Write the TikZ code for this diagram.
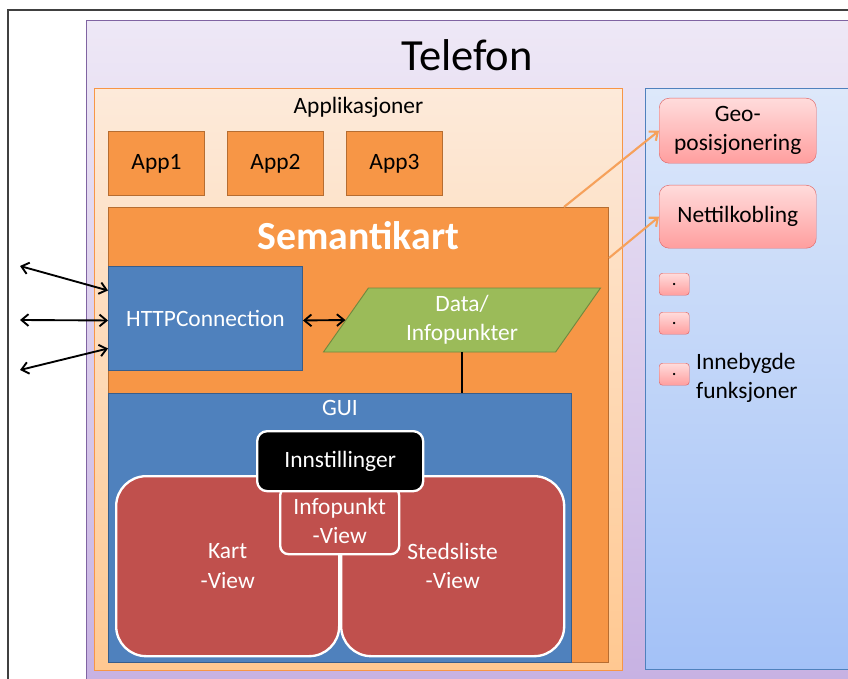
\documentclass[tikz,border=0pt]{standalone}
\usepackage{fontspec}
\setmainfont{Carlito}
\usetikzlibrary{arrows.meta,shapes.geometric}
\definecolor{TelLight}{HTML}{EEE8F6}
\definecolor{TelDark}{HTML}{C6B0E2}
\definecolor{TelLine}{HTML}{8064A2}
\definecolor{AppLight}{HTML}{FDEADA}
\definecolor{AppDark}{HTML}{FFC891}
\definecolor{MyOrange}{HTML}{F79646}
\definecolor{OrangeLine}{HTML}{B66D31}
\definecolor{MyBlue}{HTML}{4F81BD}
\definecolor{BlueLine}{HTML}{385D8A}
\definecolor{MyGreen}{HTML}{9BBB59}
\definecolor{GreenLine}{HTML}{71893F}
\definecolor{MyRed}{HTML}{C0504D}
\definecolor{PanelLight}{HTML}{DDE8FA}
\definecolor{PanelDark}{HTML}{A3C1F7}
\definecolor{PinkLight}{HTML}{FFDCDC}
\definecolor{PinkDark}{HTML}{FF9E9E}
\definecolor{PinkLine}{HTML}{E06666}
\definecolor{ArrOrange}{HTML}{F6A15B}

\begin{document}
\begin{tikzpicture}[
        x=0.03cm, y=-0.03cm,
        font=\fontsize{20}{25}\selectfont,
        box/.style={anchor=north west,inner sep=2pt},
        telbox/.style={box,draw=TelLine,thick,top color=TelLight,bottom color=TelDark},
        appbg/.style={box,draw=MyOrange,thick,top color=AppLight,bottom color=AppDark},
        app/.style={box,draw=OrangeLine,thick,fill=MyOrange,minimum width=2.88cm,minimum height=1.92cm},
        sembox/.style={box,draw=OrangeLine,thick,fill=MyOrange},
        bluebox/.style={box,draw=BlueLine,thick,fill=MyBlue,text=white},
        view/.style={box,draw=white,line width=2pt,fill=MyRed,text=white,align=center,rounded corners=0.9cm},
        small/.style={box,draw=white,line width=2pt,fill=MyRed,text=white,align=center,rounded corners=0.25cm},
        panel/.style={box,draw=MyBlue,thin,top color=PanelLight,bottom color=PanelDark},
        pink/.style={box,draw=PinkLine,thin,top color=PinkLight,bottom color=PinkDark,rounded corners=0.3cm,align=center},
        dot/.style={pink,rounded corners=0.1cm,minimum width=0.9cm,minimum height=0.66cm,font=\fontsize{16}{16}\selectfont},
        blk/.style={<->,>={Straight Barb[length=6pt,width=10pt,line width=1.6pt]},line width=1.6pt},
        org/.style={->,>={Straight Barb[length=6pt,width=10pt,line width=1.8pt]},ArrOrange,line width=1.8pt}
    ]
    \clip (0,0) rectangle (848,679);
    % window frame
    \draw[black!75,line width=1pt] (848,10) -- (8,10) -- (8,690);
    % Telefon
    \node[telbox,minimum width=23.52cm,minimum height=20.4cm] (tel) at (86,20) {};
    \node[font=\fontsize{38}{40}\selectfont] (teltitle) at (467,55) {Telefon};
    % Applikasjoner
    \node[appbg,minimum width=15.84cm,minimum height=17.46cm] (apps) at (94,88) {};
    \node[below=4pt] (appstitle) at (apps.north) {Applikasjoner};
    \node[app] (app1) at (108,131) {App1};
    \node[app] (app2) at (227,131) {App2};
    \node[app] (app3) at (346,131) {App3};
    % Semantikart
    \node[sembox,minimum width=15cm,minimum height=13.65cm] (sem) at (108,207) {};
    \node[below=9pt,text=white,font=\fontsize{34}{36}\selectfont\bfseries] (semtitle) at (sem.north) {Semantikart};
    \node[bluebox,minimum width=5.82cm,minimum height=3.12cm] (http) at (108,266) {HTTPConnection};
    \node[trapezium,trapezium left angle=49,trapezium right angle=131,trapezium stretches body,
          draw=GreenLine,thick,fill=MyGreen,text=white,align=center,inner sep=1pt,
          minimum width=8.31cm,minimum height=1.92cm] (data) at (462,320) {Data/\\Infopunkter};
    % GUI
    \node[bluebox,minimum width=13.89cm,minimum height=8.07cm] (gui) at (108,393) {};
    \node[below=3pt,text=white] (guititle) at (gui.north) {GUI};
    \node[view,minimum width=6.69cm,minimum height=5.4cm] (kart) at (115,475) {Kart\\-View};
    \node[view,minimum width=6.69cm,minimum height=5.4cm] (sted) at (340,475) {Stedsliste\\-View};
    \node[small,minimum width=3.57cm,minimum height=2.01cm] (info) at (279,486) {Infopunkt\\-View};
    \node[small,fill=black,minimum width=4.98cm,minimum height=1.8cm,rounded corners=0.3cm] (innst) at (256,430) {Innstillinger};
    % Innebygde funksjoner
    \node[panel,minimum width=7.5cm,minimum height=17.43cm] (funk) at (645,88) {};
    \node[pink,minimum width=4.71cm,minimum height=1.95cm] (geo) at (659,98) {Geo-\\posisjonering};
    \node[pink,minimum width=4.71cm,minimum height=1.89cm] (nett) at (659,185) {Nettilkobling};
    \node[dot] (d1) at (659,273) {.};
    \node[dot] (d2) at (659,312) {.};
    \node[dot] (d3) at (659,363) {.};
    \node[anchor=west,align=left] (funktitle) at (692,378) {Innebygde\\funksjoner};
    % connections
    \coordinate (ext1) at (20,266);
    \coordinate (ext2) at (20,320);
    \coordinate (ext3) at (20,370);
    \draw[blk] (ext1) -- ([yshift=0.84cm]http.west);
    \draw[blk] (ext2) -- ([yshift=-0.06cm]http.west);
    \draw[blk] (ext3) -- ([yshift=-0.9cm]http.west);
    \draw[blk] ([yshift=-0.06cm]http.east) -- (data.west);
    \draw[line width=1.5pt] (data.south) -- (data.south |- gui.north);
    \draw[org] ([xshift=-1.35cm]sem.north east) -- (geo.west);
    \draw[org] ([yshift=-1.53cm]sem.north east) -- (nett.west);
\end{tikzpicture}
\end{document}
